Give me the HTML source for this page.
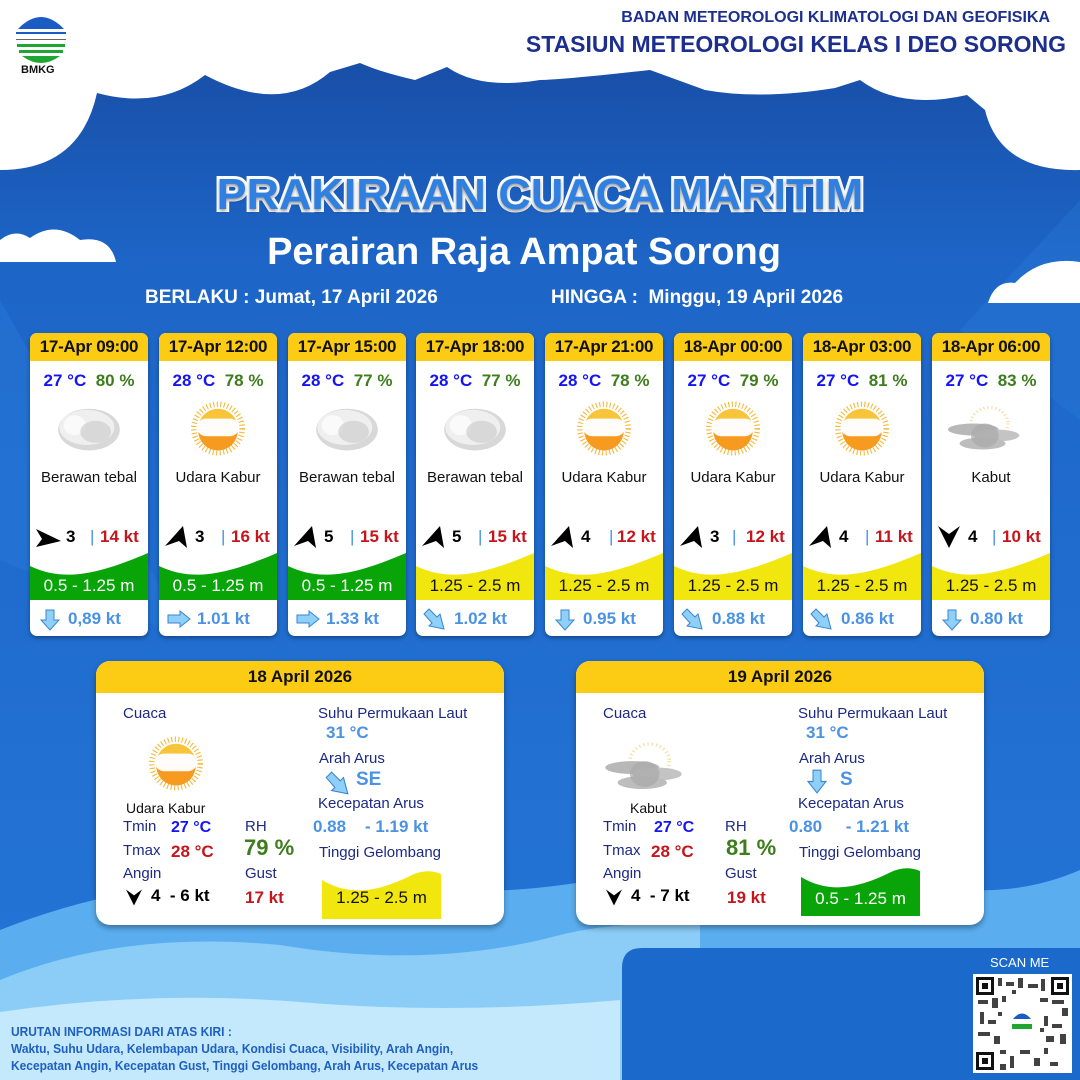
<!DOCTYPE html>
<html><head><meta charset="utf-8">
<style>
*{margin:0;padding:0;box-sizing:border-box}
body{width:1080px;height:1080px;overflow:hidden;position:relative;font-family:"Liberation Sans",sans-serif;background:#1e6acb}
.a{position:absolute;white-space:nowrap}
.card{position:absolute;top:333px;width:118px;height:303px;background:#fff;border-radius:7px;overflow:hidden;box-shadow:0 2px 4px rgba(0,0,0,.35)}
.card .hd{position:absolute;left:0;top:0;width:118px;height:28px;background:#fccb14;font-weight:bold;font-size:17px;line-height:28px;text-align:center;color:#111;letter-spacing:-.3px}
.card .t{position:absolute;top:38px;width:118px;text-align:center;font-weight:bold;font-size:17px;line-height:20px}
.b{color:#1414f5}.g{color:#3d7d1c}.r{color:#c4161c}.lb{color:#4a92e4}.nv{color:#1c2a84}
.card .ic{position:absolute;left:26px;top:68px;width:66px;height:55px}
.card .lab{position:absolute;top:136px;width:118px;text-align:center;font-size:15px;line-height:18px;color:#111}
.card .wd{position:absolute;top:193px;left:0;width:118px;height:22px;font-size:17px;font-weight:bold;line-height:22px}
.card .wv{position:absolute;left:0;top:217px;width:118px;height:50px}
.card .wt{position:absolute;left:0;top:243px;width:118px;text-align:center;font-size:17px;line-height:20px}
.card .cu{position:absolute;left:0;top:274px;width:118px;height:24px;font-size:17px;font-weight:bold;line-height:24px;color:#4a92e4}
.pan{position:absolute;top:661px;width:408px;height:264px;background:#fff;border-radius:14px;box-shadow:0 3px 6px rgba(0,0,0,.35);overflow:hidden}
.pan .hd{position:absolute;left:0;top:0;width:408px;height:32px;background:#fccb14;font-weight:bold;font-size:17px;line-height:32px;text-align:center;color:#111}
.pan .a{font-size:15px;line-height:18px}
</style></head><body>
<svg class="a" style="left:0;top:0" width="1080" height="1080" viewBox="0 0 1080 1080">
<defs>
<linearGradient id="bg" x1="0" y1="0" x2="0" y2="1"><stop offset="0" stop-color="#17489e"/><stop offset=".25" stop-color="#1d66c8"/><stop offset="1" stop-color="#2476d8"/></linearGradient>
</defs>
<rect width="1080" height="1080" fill="url(#bg)"/>
<polygon points="0,300 0,560 190,640" fill="#2a7fdc" opacity=".35"/>
<polygon points="1080,200 1080,420 960,330" fill="#2a7fdc" opacity=".3"/>
<path d="M0,0 H1080 V170 Q1000,172 985,110 L967,95 Q900,110 860,80 L835,88 Q760,100 705,90 L650,70 Q560,80 540,80 Q480,90 447,67 L415,80 Q380,72 360,63 L330,72 Q280,115 205,75 Q160,110 97,93 Q80,170 0,170 Z" fill="#fff"/>
<path d="M0,262 V240 Q15,228 30,238 Q55,220 80,240 Q110,235 116,262 Z" fill="#fff"/>
<path d="M988,303 Q995,280 1015,283 Q1040,256 1080,262 V303 Z" fill="#fff"/>
<path d="M0,930 Q150,870 330,880 Q480,905 620,875 Q760,845 900,880 Q1000,905 1080,870 V1080 H0 Z" fill="#5aaef0"/>
<path d="M0,980 Q120,930 280,945 Q430,970 560,935 Q620,920 700,925 V1080 H0 Z" fill="#8ccdf8"/>
<path d="M0,1012 Q150,990 300,1002 Q450,1015 620,1000 V1080 H0 Z" fill="#c4e8fc"/>
<path d="M642,948 H1080 V1080 H622 V968 Q622,948 642,948 Z" fill="#1b6acb"/>
<circle cx="41" cy="40" r="25" fill="#fff"/>
<path d="M18,29 Q41,5 64,29 Z" fill="#1b5cc4"/>
<rect x="16" y="32" width="50" height="2" fill="#1b5cc4"/>
<rect x="16" y="39" width="50" height="1" fill="#666"/>
<path d="M17,44 H65 V47 H17 Z M19,50 H63 V53 H19Z M22,56 Q41,70 60,56Z" fill="#1fa531"/>
<rect x="973" y="974" width="99" height="99" fill="#fff"/>
<g fill="#111">
<rect x="976" y="977" width="18" height="18"/><rect x="1051" y="977" width="18" height="18"/><rect x="976" y="1052" width="18" height="18"/>
</g>
<g fill="#fff"><rect x="979" y="980" width="12" height="12"/><rect x="1054" y="980" width="12" height="12"/><rect x="979" y="1055" width="12" height="12"/></g>
<g fill="#111"><rect x="982" y="983" width="6" height="6"/><rect x="1057" y="983" width="6" height="6"/><rect x="982" y="1058" width="6" height="6"/></g>
<g fill="#222" opacity=".85">
<rect x="998" y="978" width="4" height="8"/><rect x="1006" y="982" width="8" height="4"/><rect x="1018" y="978" width="5" height="10"/><rect x="1028" y="984" width="10" height="4"/><rect x="1041" y="979" width="4" height="12"/>
<rect x="978" y="1000" width="10" height="4"/><rect x="992" y="998" width="6" height="10"/><rect x="1002" y="996" width="4" height="6"/><rect x="1040" y="998" width="8" height="4"/><rect x="1052" y="1000" width="12" height="4"/><rect x="1062" y="1008" width="6" height="8"/>
<rect x="980" y="1012" width="4" height="12"/><rect x="988" y="1020" width="8" height="4"/><rect x="1044" y="1016" width="4" height="10"/><rect x="1052" y="1024" width="10" height="4"/>
<rect x="978" y="1032" width="12" height="4"/><rect x="994" y="1036" width="6" height="8"/><rect x="1046" y="1036" width="8" height="6"/><rect x="1060" y="1034" width="6" height="10"/>
<rect x="1000" y="1050" width="6" height="4"/><rect x="1010" y="1056" width="4" height="12"/><rect x="1020" y="1050" width="10" height="4"/><rect x="1034" y="1058" width="6" height="8"/><rect x="1044" y="1048" width="4" height="6"/><rect x="1000" y="1064" width="6" height="6"/><rect x="1050" y="1062" width="8" height="4"/>
<rect x="998" y="1012" width="4" height="4"/><rect x="1040" y="1028" width="4" height="4"/><rect x="1012" y="990" width="4" height="4"/>
</g>
<circle cx="1022" cy="1023" r="12" fill="#fff"/><path d="M1013,1019 Q1022,1008 1031,1019Z" fill="#1b5cc4"/><rect x="1012" y="1024" width="20" height="5" fill="#1fa531"/>
<defs>
<g id="sun"><circle cx="30" cy="25" r="22" fill="none" stroke="#f6b93a" stroke-width="5" stroke-dasharray="1 2.2"/><circle cx="30" cy="25" r="18" fill="#f8c43a"/><path d="M12,27 A18,18 0 0 0 48,27 Z" fill="#f69a20"/><rect x="11" y="16" width="38" height="16" rx="8" fill="#fff" opacity=".97"/></g>
<g id="cld"><ellipse cx="30" cy="26" rx="28" ry="19" fill="#d8d8d8"/><ellipse cx="28" cy="24" rx="25" ry="16" fill="#efefef"/><ellipse cx="17" cy="22" rx="10" ry="9" fill="#fafafa"/><ellipse cx="36" cy="28" rx="14" ry="10" fill="#c8c8c8" opacity=".6"/></g>
<g id="fog"><circle cx="36" cy="20" r="16" fill="none" stroke="#f5dca0" stroke-width="3" stroke-dasharray="1 2.5"/><ellipse cx="22" cy="26" rx="22" ry="6" fill="#b8b8b8"/><ellipse cx="42" cy="32" rx="20" ry="6" fill="#c4c4c4"/><ellipse cx="30" cy="40" rx="20" ry="6" fill="#bdbdbd"/><ellipse cx="32" cy="32" rx="12" ry="12" fill="#aaa" opacity=".7"/></g>
</defs>
</svg>

<div class="a" style="left:21px;top:64px;font-size:11px;font-weight:bold;color:#111">BMKG</div>
<div class="a" style="right:30px;top:9px;font-size:16px;font-weight:bold;color:#1c2f8f">BADAN METEOROLOGI KLIMATOLOGI DAN GEOFISIKA</div>
<div class="a" style="right:14px;top:31px;font-size:23px;font-weight:bold;color:#1c2f8f">STASIUN METEOROLOGI KELAS I DEO SORONG</div>

<div class="a" style="left:0;width:1080px;top:170px;text-align:center;font-size:44px;font-weight:bold;color:#2f80e0;-webkit-text-stroke:6px #fff;paint-order:stroke fill;text-shadow:0 2px 3px rgba(0,0,0,.4)"><span style="display:inline-block;transform:scaleX(1.02)">PRAKIRAAN CUACA MARITIM</span></div>
<div class="a" style="left:0;width:1048px;top:231px;text-align:center;font-size:38px;font-weight:bold;color:#fff">Perairan Raja Ampat Sorong</div>
<div class="a" style="left:145px;top:287px;font-size:19px;font-weight:bold;color:#fff">BERLAKU : Jumat, 17 April 2026</div>
<div class="a" style="left:551px;top:287px;font-size:19px;font-weight:bold;color:#fff">HINGGA :&nbsp; Minggu, 19 April 2026</div>

<div class="card" style="left:30px"><div class="hd">17-Apr 09:00</div>
<div class="t"><span class="b">27 °C</span>&nbsp; <span class="g">80 %</span></div>
<svg class="ic" viewBox="0 0 60 50"><use href="#cld"/></svg>
<div class="lab">Berawan tebal</div>
<div class="wd"><svg class="a" style="left:6px;top:1px" width="26" height="22" viewBox="0 0 26 22"><path d="M0,2 L25,14 L0,20 L6,12Z" fill="#000"/></svg><span class="a" style="left:36px">3</span><span class="a lb" style="left:60px;font-weight:normal">|</span><span class="a r" style="left:70px">14 kt</span></div>
<svg class="wv" viewBox="0 0 118 50" preserveAspectRatio="none"><path d="M0,16 C30,30 60,28 118,3 V50 H0Z" fill="#08a408"/></svg>
<div class="wt" style="color:#fff">0.5 - 1.25 m</div>
<div class="cu"><svg class="a" style="left:10px;top:2px" width="20" height="22" viewBox="0 0 20 22"><path d="M6,1 H14 V11 H19 L10,21 L1,11 H6Z" fill="#8ed0f8" stroke="#3b86d0"/></svg><span class="a" style="left:38px">0,89 kt</span></div></div>

<div class="card" style="left:159px"><div class="hd">17-Apr 12:00</div>
<div class="t"><span class="b">28 °C</span>&nbsp; <span class="g">78 %</span></div>
<svg class="ic" viewBox="0 0 60 50"><use href="#sun"/></svg>
<div class="lab">Udara Kabur</div>
<div class="wd"><svg class="a" style="left:6px;top:0" width="24" height="22" viewBox="0 0 24 22"><path d="M18,0 L22,22 L14,15 L0,20Z" fill="#000"/></svg><span class="a" style="left:36px">3</span><span class="a lb" style="left:62px;font-weight:normal">|</span><span class="a r" style="left:72px">16 kt</span></div>
<svg class="wv" viewBox="0 0 118 50" preserveAspectRatio="none"><path d="M0,16 C30,30 60,28 118,3 V50 H0Z" fill="#08a408"/></svg>
<div class="wt" style="color:#fff">0.5 - 1.25 m</div>
<div class="cu"><svg class="a" style="left:8px;top:3px" width="24" height="18" viewBox="0 0 24 18"><path d="M1,5 H13 V1 L23,9 L13,17 V13 H1Z" fill="#8ed0f8" stroke="#3b86d0"/></svg><span class="a" style="left:38px">1.01 kt</span></div></div>

<div class="card" style="left:288px"><div class="hd">17-Apr 15:00</div>
<div class="t"><span class="b">28 °C</span>&nbsp; <span class="g">77 %</span></div>
<svg class="ic" viewBox="0 0 60 50"><use href="#cld"/></svg>
<div class="lab">Berawan tebal</div>
<div class="wd"><svg class="a" style="left:6px;top:0" width="24" height="22" viewBox="0 0 24 22"><path d="M18,0 L22,22 L14,15 L0,20Z" fill="#000"/></svg><span class="a" style="left:36px">5</span><span class="a lb" style="left:62px;font-weight:normal">|</span><span class="a r" style="left:72px">15 kt</span></div>
<svg class="wv" viewBox="0 0 118 50" preserveAspectRatio="none"><path d="M0,16 C30,30 60,28 118,3 V50 H0Z" fill="#08a408"/></svg>
<div class="wt" style="color:#fff">0.5 - 1.25 m</div>
<div class="cu"><svg class="a" style="left:8px;top:3px" width="24" height="18" viewBox="0 0 24 18"><path d="M1,5 H13 V1 L23,9 L13,17 V13 H1Z" fill="#8ed0f8" stroke="#3b86d0"/></svg><span class="a" style="left:38px">1.33 kt</span></div></div>

<div class="card" style="left:416px"><div class="hd">17-Apr 18:00</div>
<div class="t"><span class="b">28 °C</span>&nbsp; <span class="g">77 %</span></div>
<svg class="ic" viewBox="0 0 60 50"><use href="#cld"/></svg>
<div class="lab">Berawan tebal</div>
<div class="wd"><svg class="a" style="left:6px;top:0" width="24" height="22" viewBox="0 0 24 22"><path d="M18,0 L22,22 L14,15 L0,20Z" fill="#000"/></svg><span class="a" style="left:36px">5</span><span class="a lb" style="left:62px;font-weight:normal">|</span><span class="a r" style="left:72px">15 kt</span></div>
<svg class="wv" viewBox="0 0 118 50" preserveAspectRatio="none"><path d="M0,16 C30,30 60,28 118,3 V50 H0Z" fill="#f2e60f"/></svg>
<div class="wt" style="color:#111">1.25 - 2.5 m</div>
<div class="cu"><svg class="a" style="left:6px;top:1px" width="24" height="22" viewBox="0 0 24 22"><path d="M2,6 L7,1 L15,9 L18,6 L22,21 L7,18 L10,15Z" fill="#8ed0f8" stroke="#3b86d0"/></svg><span class="a" style="left:38px">1.02 kt</span></div></div>

<div class="card" style="left:545px"><div class="hd">17-Apr 21:00</div>
<div class="t"><span class="b">28 °C</span>&nbsp; <span class="g">78 %</span></div>
<svg class="ic" viewBox="0 0 60 50"><use href="#sun"/></svg>
<div class="lab">Udara Kabur</div>
<div class="wd"><svg class="a" style="left:6px;top:0" width="24" height="22" viewBox="0 0 24 22"><path d="M18,0 L22,22 L14,15 L0,20Z" fill="#000"/></svg><span class="a" style="left:36px">4</span><span class="a lb" style="left:64px;font-weight:normal">|</span><span class="a r" style="left:72px">12 kt</span></div>
<svg class="wv" viewBox="0 0 118 50" preserveAspectRatio="none"><path d="M0,16 C30,30 60,28 118,3 V50 H0Z" fill="#f2e60f"/></svg>
<div class="wt" style="color:#111">1.25 - 2.5 m</div>
<div class="cu"><svg class="a" style="left:10px;top:2px" width="20" height="22" viewBox="0 0 20 22"><path d="M6,1 H14 V11 H19 L10,21 L1,11 H6Z" fill="#8ed0f8" stroke="#3b86d0"/></svg><span class="a" style="left:38px">0.95 kt</span></div></div>

<div class="card" style="left:674px"><div class="hd">18-Apr 00:00</div>
<div class="t"><span class="b">27 °C</span>&nbsp; <span class="g">79 %</span></div>
<svg class="ic" viewBox="0 0 60 50"><use href="#sun"/></svg>
<div class="lab">Udara Kabur</div>
<div class="wd"><svg class="a" style="left:6px;top:0" width="24" height="22" viewBox="0 0 24 22"><path d="M18,0 L22,22 L14,15 L0,20Z" fill="#000"/></svg><span class="a" style="left:36px">3</span><span class="a lb" style="left:58px;font-weight:normal">|</span><span class="a r" style="left:72px">12 kt</span></div>
<svg class="wv" viewBox="0 0 118 50" preserveAspectRatio="none"><path d="M0,16 C30,30 60,28 118,3 V50 H0Z" fill="#f2e60f"/></svg>
<div class="wt" style="color:#111">1.25 - 2.5 m</div>
<div class="cu"><svg class="a" style="left:6px;top:1px" width="24" height="22" viewBox="0 0 24 22"><path d="M2,6 L7,1 L15,9 L18,6 L22,21 L7,18 L10,15Z" fill="#8ed0f8" stroke="#3b86d0"/></svg><span class="a" style="left:38px">0.88 kt</span></div></div>

<div class="card" style="left:803px"><div class="hd">18-Apr 03:00</div>
<div class="t"><span class="b">27 °C</span>&nbsp; <span class="g">81 %</span></div>
<svg class="ic" viewBox="0 0 60 50"><use href="#sun"/></svg>
<div class="lab">Udara Kabur</div>
<div class="wd"><svg class="a" style="left:6px;top:0" width="24" height="22" viewBox="0 0 24 22"><path d="M18,0 L22,22 L14,15 L0,20Z" fill="#000"/></svg><span class="a" style="left:36px">4</span><span class="a lb" style="left:62px;font-weight:normal">|</span><span class="a r" style="left:72px">11 kt</span></div>
<svg class="wv" viewBox="0 0 118 50" preserveAspectRatio="none"><path d="M0,16 C30,30 60,28 118,3 V50 H0Z" fill="#f2e60f"/></svg>
<div class="wt" style="color:#111">1.25 - 2.5 m</div>
<div class="cu"><svg class="a" style="left:6px;top:1px" width="24" height="22" viewBox="0 0 24 22"><path d="M2,6 L7,1 L15,9 L18,6 L22,21 L7,18 L10,15Z" fill="#8ed0f8" stroke="#3b86d0"/></svg><span class="a" style="left:38px">0.86 kt</span></div></div>

<div class="card" style="left:932px"><div class="hd">18-Apr 06:00</div>
<div class="t"><span class="b">27 °C</span>&nbsp; <span class="g">83 %</span></div>
<svg class="ic" style="left:8px;width:84px" viewBox="0 0 84 50"><use href="#fog" transform="translate(8,0) scale(1.15,1)"/></svg>
<div class="lab">Kabut</div>
<div class="wd"><svg class="a" style="left:6px;top:0" width="22" height="22" viewBox="0 0 22 22"><path d="M0,0 L11,8 L22,0 L11,22Z" fill="#000"/></svg><span class="a" style="left:36px">4</span><span class="a lb" style="left:60px;font-weight:normal">|</span><span class="a r" style="left:70px">10 kt</span></div>
<svg class="wv" viewBox="0 0 118 50" preserveAspectRatio="none"><path d="M0,16 C30,30 60,28 118,3 V50 H0Z" fill="#f2e60f"/></svg>
<div class="wt" style="color:#111">1.25 - 2.5 m</div>
<div class="cu"><svg class="a" style="left:10px;top:2px" width="20" height="22" viewBox="0 0 20 22"><path d="M6,1 H14 V11 H19 L10,21 L1,11 H6Z" fill="#8ed0f8" stroke="#3b86d0"/></svg><span class="a" style="left:38px">0.80 kt</span></div></div>

<div class="pan" style="left:96px"><div class="hd">18 April 2026</div>
<div class="a nv" style="left:27px;top:44px">Cuaca</div>
<svg class="a" style="left:47px;top:75px" width="66" height="55" viewBox="0 0 60 50"><use href="#sun"/></svg>
<div class="a" style="left:30px;top:138px;font-size:14px;color:#111">Udara Kabur</div>
<div class="a nv" style="left:27px;top:157px">Tmin</div><div class="a b" style="left:75px;top:158px;font-weight:bold;font-size:16px">27 °C</div>
<div class="a nv" style="left:27px;top:181px">Tmax</div><div class="a r" style="left:75px;top:182px;font-weight:bold;font-size:17px">28 °C</div>
<div class="a nv" style="left:27px;top:204px">Angin</div>
<svg class="a" style="left:30px;top:228px" width="16" height="17" viewBox="0 0 22 22"><path d="M0,0 L11,8 L22,0 L11,22Z" fill="#000"/></svg>
<div class="a" style="left:55px;top:226px;font-weight:bold;font-size:17px">4 &nbsp;- 6 kt</div>
<div class="a nv" style="left:149px;top:157px">RH</div><div class="a g" style="left:148px;top:175px;font-weight:bold;font-size:22px;line-height:24px">79 %</div>
<div class="a nv" style="left:149px;top:204px">Gust</div><div class="a r" style="left:149px;top:228px;font-weight:bold;font-size:17px">17 kt</div>
<div class="a nv" style="left:222px;top:44px">Suhu Permukaan Laut</div>
<div class="a lb" style="left:230px;top:63px;font-weight:bold;font-size:17px">31 °C</div>
<div class="a nv" style="left:223px;top:89px">Arah Arus</div>
<svg class="a" style="left:228px;top:110px" width="26" height="24" viewBox="0 0 24 22"><path d="M2,6 L7,1 L15,9 L18,6 L22,21 L7,18 L10,15Z" fill="#8ed0f8" stroke="#3b86d0"/></svg>
<div class="a lb" style="left:260px;top:108px;font-weight:bold;font-size:19px;line-height:22px">SE</div>
<div class="a nv" style="left:222px;top:134px">Kecepatan Arus</div>
<div class="a lb" style="left:217px;top:157px;font-weight:bold;font-size:17px">0.88 &nbsp;&nbsp;&nbsp;- 1.19 kt</div>
<div class="a nv" style="left:223px;top:183px">Tinggi Gelombang</div>
<svg class="a" style="left:226px;top:209px" width="119" height="49" viewBox="0 0 119 49" preserveAspectRatio="none"><path d="M0,10 C30,28 60,20 90,5 Q105,-2 119,4 V49 H0Z" fill="#f2e60f"/></svg>
<div class="a" style="left:226px;top:228px;width:119px;text-align:center;font-size:17px;color:#111">1.25 - 2.5 m</div>
</div>

<div class="pan" style="left:576px"><div class="hd">19 April 2026</div>
<div class="a nv" style="left:27px;top:44px">Cuaca</div>
<svg class="a" style="left:25px;top:78px" width="90" height="55" viewBox="0 0 84 50"><use href="#fog" transform="translate(4,0) scale(1.15,1)"/></svg>
<div class="a" style="left:54px;top:138px;font-size:14px;color:#111">Kabut</div>
<div class="a nv" style="left:27px;top:157px">Tmin</div><div class="a b" style="left:78px;top:158px;font-weight:bold;font-size:16px">27 °C</div>
<div class="a nv" style="left:27px;top:181px">Tmax</div><div class="a r" style="left:75px;top:182px;font-weight:bold;font-size:17px">28 °C</div>
<div class="a nv" style="left:27px;top:204px">Angin</div>
<svg class="a" style="left:30px;top:228px" width="16" height="17" viewBox="0 0 22 22"><path d="M0,0 L11,8 L22,0 L11,22Z" fill="#000"/></svg>
<div class="a" style="left:55px;top:226px;font-weight:bold;font-size:17px">4 &nbsp;- 7 kt</div>
<div class="a nv" style="left:149px;top:157px">RH</div><div class="a g" style="left:150px;top:175px;font-weight:bold;font-size:22px;line-height:24px">81 %</div>
<div class="a nv" style="left:149px;top:204px">Gust</div><div class="a r" style="left:151px;top:228px;font-weight:bold;font-size:17px">19 kt</div>
<div class="a nv" style="left:222px;top:44px">Suhu Permukaan Laut</div>
<div class="a lb" style="left:230px;top:63px;font-weight:bold;font-size:17px">31 °C</div>
<div class="a nv" style="left:223px;top:89px">Arah Arus</div>
<svg class="a" style="left:231px;top:108px" width="20" height="25" viewBox="0 0 20 22" preserveAspectRatio="none"><path d="M6,1 H14 V11 H19 L10,21 L1,11 H6Z" fill="#8ed0f8" stroke="#3b86d0"/></svg>
<div class="a lb" style="left:264px;top:108px;font-weight:bold;font-size:19px;line-height:22px">S</div>
<div class="a nv" style="left:222px;top:134px">Kecepatan Arus</div>
<div class="a lb" style="left:213px;top:157px;font-weight:bold;font-size:17px">0.80 &nbsp;&nbsp;&nbsp;&nbsp;- 1.21 kt</div>
<div class="a nv" style="left:223px;top:183px">Tinggi Gelombang</div>
<svg class="a" style="left:225px;top:206px" width="119" height="49" viewBox="0 0 119 49" preserveAspectRatio="none"><path d="M0,10 C30,28 60,20 90,5 Q105,-2 119,4 V49 H0Z" fill="#08a408"/></svg>
<div class="a" style="left:225px;top:229px;width:119px;text-align:center;font-size:17px;color:#fff">0.5 - 1.25 m</div>
</div>

<div class="a" style="left:990px;top:955px;font-size:13px;color:#fff">SCAN ME</div>
<div class="a" style="left:11px;top:1023px;font-size:13px;font-weight:bold;color:#1f5fc0;line-height:17px;transform:scaleX(.92);transform-origin:left">URUTAN INFORMASI DARI ATAS KIRI :<br>Waktu, Suhu Udara, Kelembapan Udara, Kondisi Cuaca, Visibility, Arah Angin,<br>Kecepatan Angin, Kecepatan Gust, Tinggi Gelombang, Arah Arus, Kecepatan Arus</div>
</body></html>
